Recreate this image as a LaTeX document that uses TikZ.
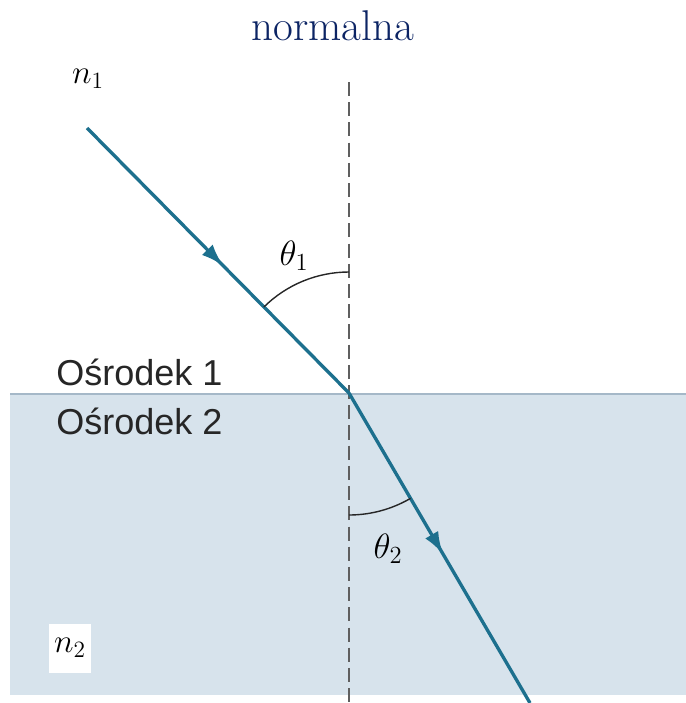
\RequirePackage{fix-cm}
\documentclass[tikz,border=0pt]{standalone}
\usepackage{fontspec}
\newfontfamily\mediumfont{Liberation Sans}
\usetikzlibrary{arrows.meta,decorations.markings}
\definecolor{raycol}{RGB}{29,112,142}
\definecolor{titlecol}{RGB}{12,36,100}
\definecolor{mediumcol}{RGB}{215,227,236}
\definecolor{edgecol}{RGB}{165,184,200}
\definecolor{normalcol}{RGB}{95,95,95}
\begin{document}
\begin{tikzpicture}[x=0.02cm,y=-0.02cm,
  ray/.style={draw=raycol,line width=1.9pt},
  midarrow/.style={postaction={decorate},decoration={markings,
    mark=at position #1 with {\arrow{Latex[length=0.45cm,width=0.3cm]}}}},
  normalline/.style={draw=normalcol,line width=1.7pt,dash pattern=on 8pt off 3.5pt},
  anglearc/.style={draw=black!85,line width=0.8pt},
  medlabel/.style={anchor=west,inner sep=0pt,text=black!85,font=\mediumfont\fontsize{20.5}{24}\selectfont},
  symlabel/.style={inner sep=0pt,font=\fontsize{19}{23}\selectfont}]
\useasboundingbox (0,0) rectangle (686,703);
% second medium
\fill[mediumcol] (10,394) rectangle (686,695);
\draw[edgecol,line width=0.8pt] (10,394) -- (686,394);
% normal
\coordinate (top) at (349,82);
\coordinate (bottom) at (349,703);
\draw[normalline] (top) -- (bottom);
\node[text=titlecol,font=\fontsize{24.5}{28}\selectfont,anchor=base] (title) at (333,40) {normalna};
% rays
\coordinate (src) at (87,128);
\coordinate (hit) at (349,393);
\coordinate (out) at (530,703);
\draw[ray,midarrow=0.52] (src) -- (hit);
\draw[ray,midarrow=0.52] (hit) -- (out);
% angles
\draw[anglearc] (hit) ++(0,-121) arc[start angle=90,end angle=134.7,radius=2.42cm];
\draw[anglearc] (hit) ++(0,122) arc[start angle=270,end angle=300.3,radius=2.44cm];
\node[symlabel,font=\fontsize{20}{24}\selectfont] (th1) at (294,256) {$\theta_1$};
\node[symlabel,font=\fontsize{20}{24}\selectfont] (th2) at (388,549) {$\theta_2$};
% labels
\node[medlabel] (med1) at (56,372) {Ośrodek 1};
\node[medlabel] (med2) at (56,421) {Ośrodek 2};
\node[symlabel] (n1) at (88,79) {$n_1$};
\node[symlabel,fill=white,minimum width=0.86cm,minimum height=0.98cm] (n2) at (70,648) {$n_2$};
\end{tikzpicture}
\end{document}
